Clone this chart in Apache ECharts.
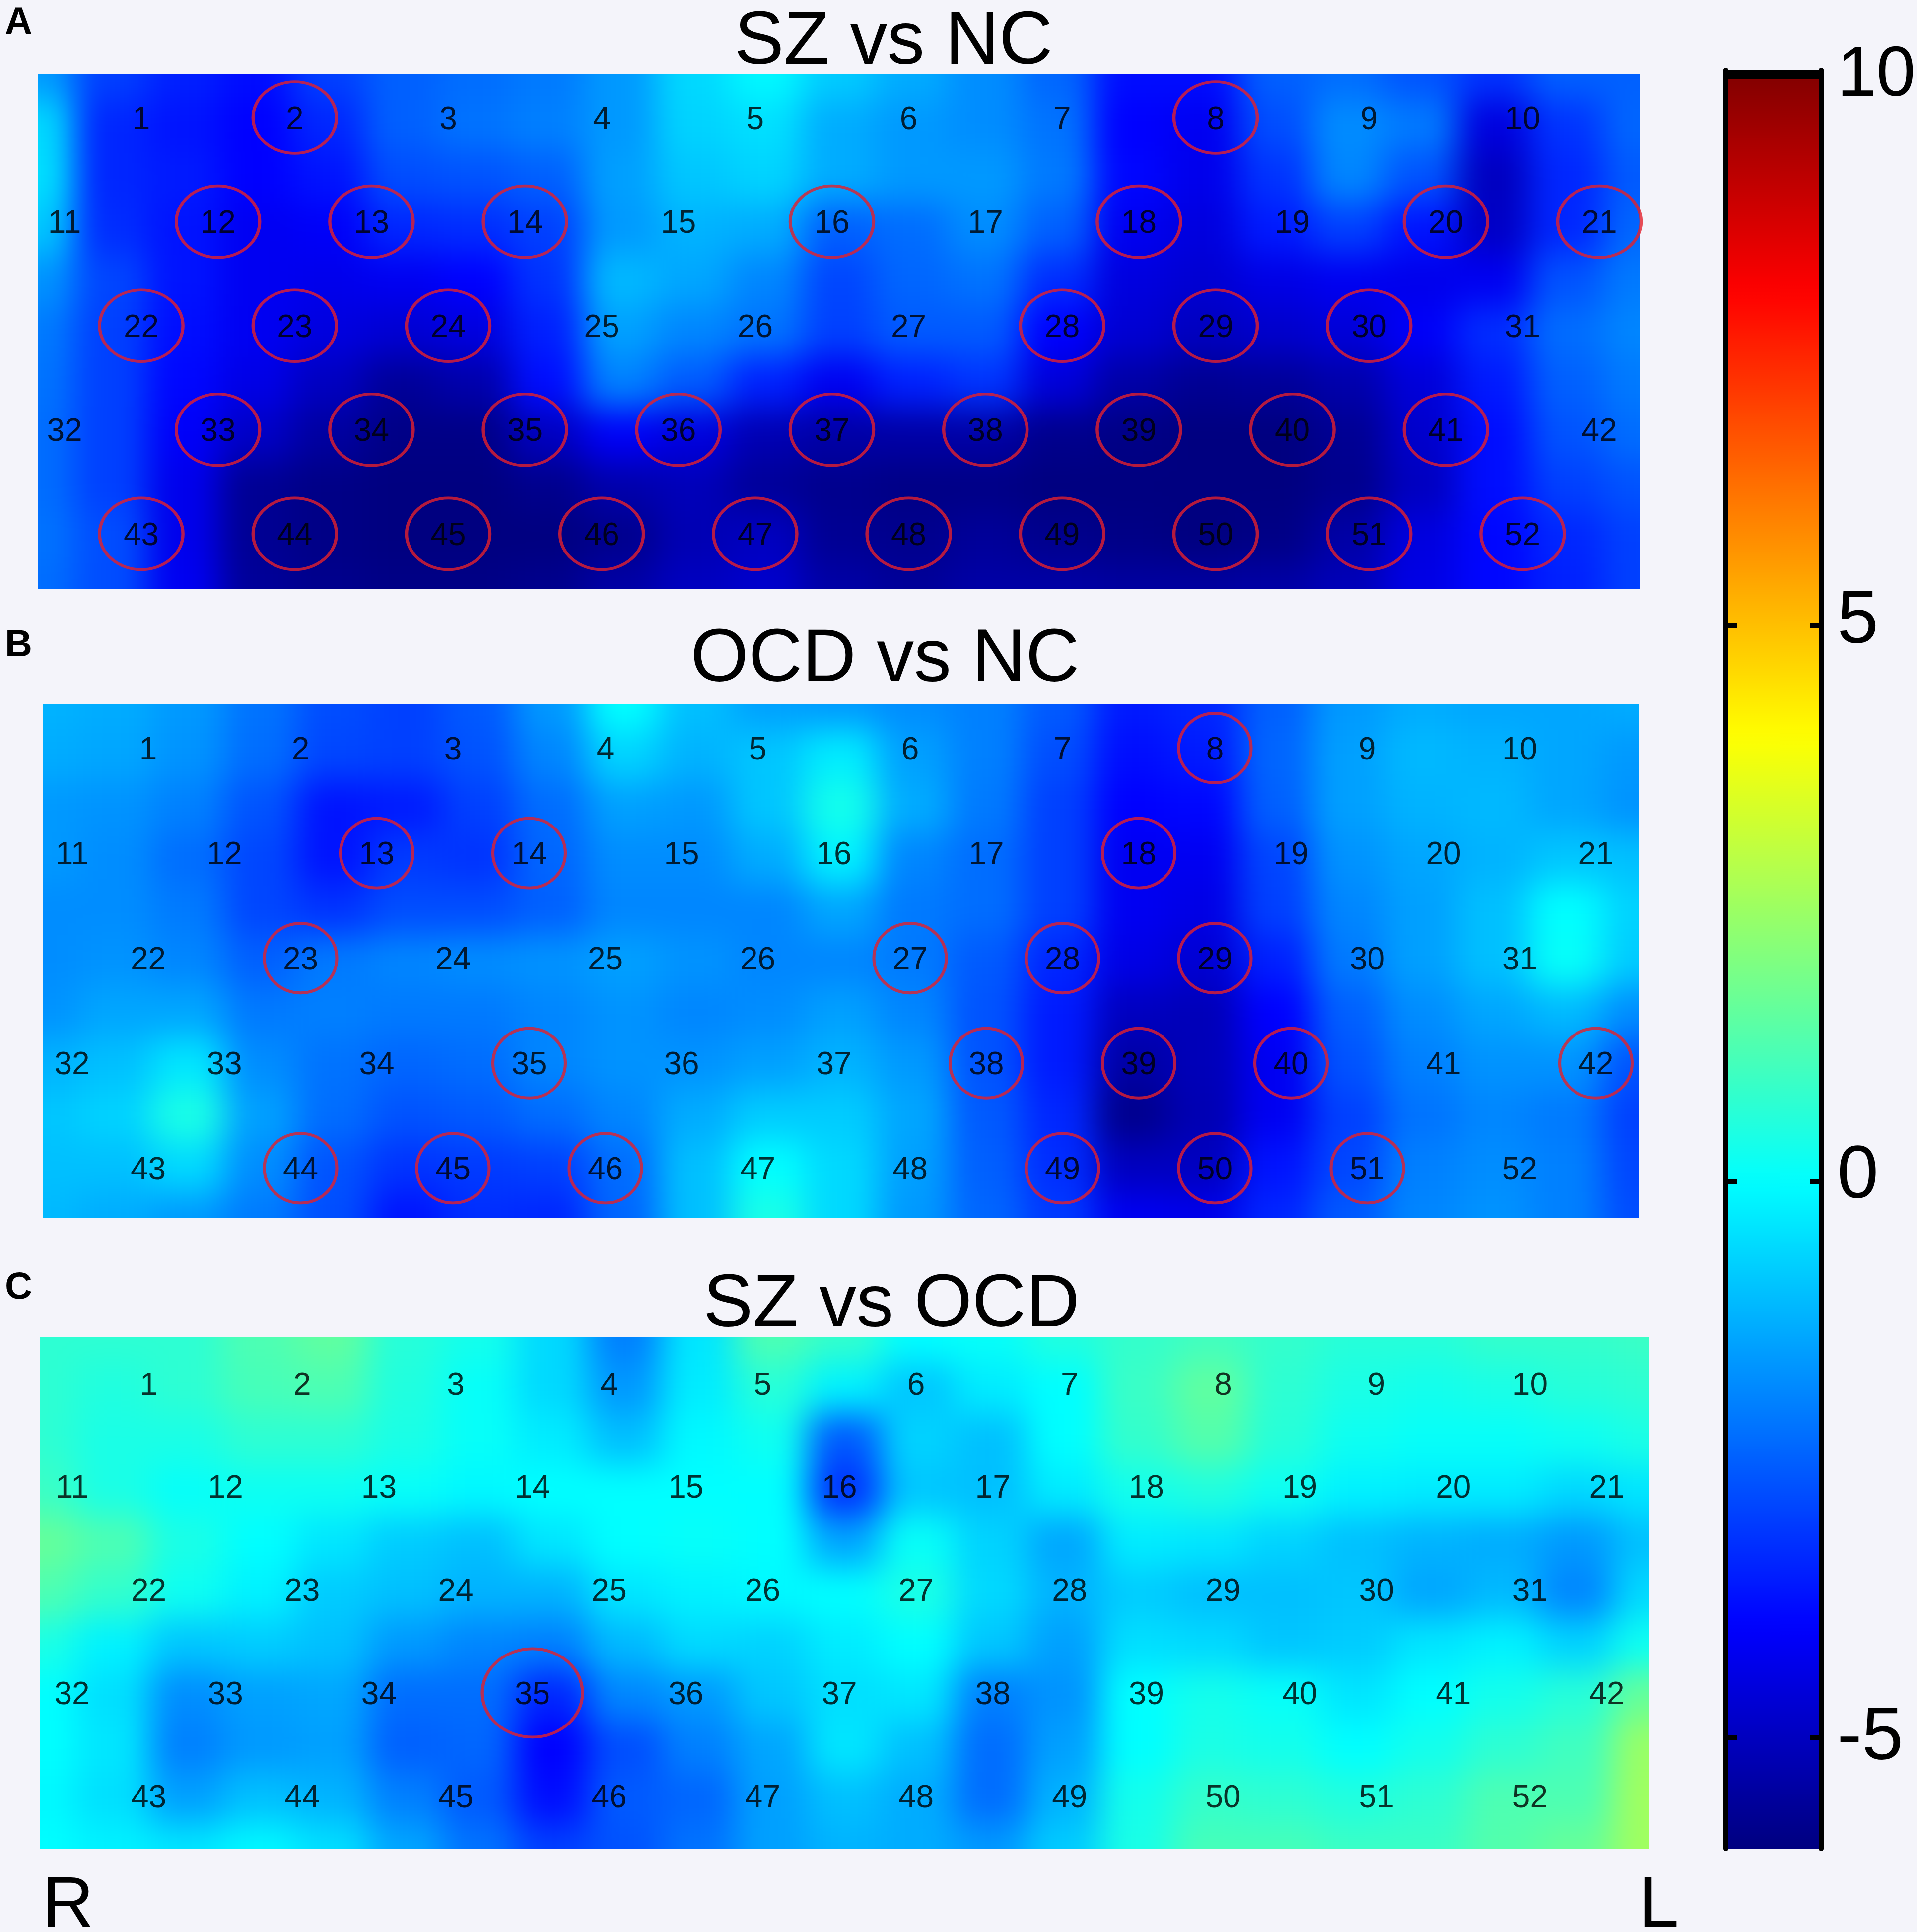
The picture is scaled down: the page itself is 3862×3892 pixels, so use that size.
<!DOCTYPE html>
<html>
<head>
<meta charset="utf-8">
<script src="https://cdn.jsdelivr.net/npm/echarts@6/dist/echarts.min.js"></script>
<style>
html,body{margin:0;padding:0;background:#f4f4fa;}
#chart{width:3862px;height:3892px;}
/* the heat layer (zlevel 0) is softened the way the source map is interpolated */
#chart canvas[data-zr-dom-id="zr_0"]{filter:blur(34px);}
</style>
</head>
<body>
<div id="chart"></div>
<script>
// Values, one row per line, 23 columns x 11 rows, top to bottom.
const szVsNc = [
[-1.6,-3,-3.5,-3.8,-3,-2.5,-2.3,-2.1,-1.6,-0.6,-0.1,-0.8,-1.3,-1.8,-2.4,-3.8,-3.8,-2.5,-2.3,-2.7,-3.2,-2.5,-2.5],
[-0.6,-3.4,-3.7,-4,-3.4,-2.5,-2.2,-2,-1.6,-0.7,-0.5,-1.3,-1.6,-1.8,-2.2,-4,-4.2,-2.8,-1.8,-2.1,-4.5,-3.2,-2.4],
[-0.5,-3.4,-3.6,-4,-3.7,-2.8,-2.7,-2.5,-1.5,-0.9,-0.7,-1.3,-1.6,-1.6,-2.1,-3.9,-4.3,-3.2,-1.9,-2.7,-5,-3.4,-2.6],
[-0.9,-3.3,-3.7,-4.2,-4.1,-3.4,-3.3,-3,-1.6,-1.2,-1.3,-2.5,-2.3,-1.8,-2.5,-4.2,-4.5,-3.6,-3,-3.7,-4.9,-3.4,-2.4],
[-1.7,-2.9,-3.7,-4.2,-4.3,-4.2,-4,-3.2,-1.1,-1.4,-1.9,-2.9,-2.4,-2.2,-3.3,-4.5,-4.7,-4.4,-4.2,-4.3,-4.2,-2.7,-2.1],
[-2.1,-3,-3.8,-4.2,-4.5,-4.7,-4.5,-3.5,-1.5,-1.9,-2.2,-3,-2.6,-2.6,-4,-4.7,-5,-4.8,-4.6,-4.1,-3.3,-2.3,-1.9],
[-2.2,-3,-3.9,-4.4,-5,-5.6,-5.3,-3.8,-2,-2.6,-3.5,-4.2,-3.5,-3.2,-4.6,-5.4,-5.7,-5.6,-5.3,-4.6,-3.6,-2.5,-2.1],
[-2.3,-3,-4.1,-4.9,-5.5,-5.9,-5.9,-5,-4.1,-4.5,-5.2,-5.4,-5.4,-5.4,-5.8,-5.9,-6,-6,-5.7,-4.8,-3.8,-2.7,-2.3],
[-2.3,-3,-4.3,-5.7,-5.9,-6,-6,-5.8,-5.3,-5.1,-5.6,-5.8,-5.9,-5.9,-6,-6,-6,-6,-5.8,-5,-3.8,-3,-2.7],
[-2.2,-2.8,-4.3,-5.7,-5.9,-6,-6,-6,-5.8,-5.2,-5,-5.7,-5.8,-5.6,-5.8,-5.9,-6,-5.9,-5.4,-4.5,-3.9,-3.4,-3],
[-2.3,-2.8,-4.2,-5.6,-5.8,-5.9,-5.9,-5.8,-5.4,-5,-4.8,-5.4,-5.6,-5.4,-5.4,-5.5,-5.5,-5.4,-5.1,-4.4,-3.9,-3.5,-3]
];
const ocdVsNc = [
[-1.2,-1.3,-1.6,-2.2,-2.8,-3,-2.6,-1.6,0,-1,-1.5,-1.6,-1.8,-2,-2.6,-3.6,-3.4,-2.5,-1.6,-1.3,-1.4,-1.4,-1.3],
[-1.3,-1.4,-1.7,-2.3,-2.9,-3,-2.7,-1.9,-0.7,-1.2,-0.9,-0.3,-1.5,-2,-2.8,-3.8,-3.6,-2.4,-1.5,-1.1,-1.2,-1.4,-1.6],
[-1.6,-1.7,-2,-2.7,-3.7,-3.6,-3,-2.3,-1.5,-1.6,-0.9,0.3,-1.3,-2.1,-3,-4,-3.9,-2.5,-1.5,-1.2,-1.1,-1.4,-1.7],
[-1.6,-1.8,-2.3,-2.9,-3.7,-3.1,-3.2,-2.4,-1.8,-1.8,-1.3,-0.2,-1.9,-2.3,-3,-4.2,-4.2,-2.9,-1.7,-1.4,-1.2,-0.9,-1],
[-1.8,-1.8,-2.1,-2.9,-3.2,-2.8,-2.8,-2.5,-1.9,-1.9,-1.9,-1.4,-2.1,-2.3,-3,-4.2,-4.4,-3,-1.9,-1.5,-1,0,-0.7],
[-1.8,-1.7,-1.9,-2.5,-2.1,-1.9,-1.8,-1.7,-1.5,-1.7,-1.9,-1.9,-2.1,-2.6,-3.4,-4.4,-4.7,-3.5,-2.1,-1.5,-1,0.1,-0.8],
[-1.7,-1.4,-1.4,-2.1,-2,-2.1,-2.1,-1.9,-1.7,-1.9,-1.8,-1.5,-1.9,-2.7,-3.6,-5,-5.1,-4,-2.5,-1.8,-1.4,-1.1,-1.8],
[-1.2,-1,-0.4,-1.8,-2.2,-2.4,-2.3,-1.9,-1.7,-1.7,-1.5,-1.2,-1.6,-2.7,-3.6,-5.4,-5.1,-4.2,-2.7,-2,-1.7,-1.7,-2.7],
[-0.9,-0.7,0.4,-1.5,-2.3,-2.7,-2.6,-2.3,-1.9,-1.3,-0.8,-0.8,-1.4,-2.6,-3.4,-5.8,-5.2,-4.2,-3,-2.2,-1.9,-2.1,-3],
[-1,-1,-0.6,-1.8,-2.7,-3.2,-3.1,-3,-2.3,-1,0,-0.6,-1.5,-2.5,-3.3,-5,-5,-3.7,-2.9,-2,-1.8,-2,-2.9],
[-1.1,-1.3,-1.6,-2.1,-2.8,-3.7,-3.3,-3.4,-2.4,-1,0.4,-0.6,-1.6,-2.4,-3.1,-4.2,-4.3,-3.4,-2.6,-1.9,-1.7,-2,-2.8]
];
const szVsOcd = [
[0.7,0.7,0.7,1.2,1.5,0.6,0.3,-0.6,-2,-0.4,1.2,0.8,0,0.1,0.5,0.8,1,0.8,0.6,0.6,0.8,0.8,0.9],
[0.7,0.5,0.7,1.1,1.2,0.5,0.1,-0.6,-1.6,-0.3,0.6,-0.2,-0.9,-0.3,0,0.9,1.5,0.7,0.4,0.3,0.4,0.6,0.7],
[0.7,0.4,0.4,0.7,0.7,0.4,0.1,-0.3,-1,-0.1,0.2,-2.6,-0.7,-1,0,0.8,1.3,0.6,0.2,0.1,0.1,0.2,0.4],
[0.9,0.4,0.1,0.2,0.2,0.1,-0.1,0,0,0,0,-3.2,-0.9,-1,-0.3,0.3,0.5,0.2,-0.2,-0.3,-0.3,-0.6,-0.4],
[1.6,1.2,0.4,0,-0.4,-0.8,-1,-0.4,0,0.1,0,-1.4,0.1,-0.7,-1.4,-0.3,-0.4,-0.7,-1,-1.2,-1.3,-1.6,-1],
[1.2,0.8,0.2,-0.2,-0.8,-1,-1.2,-1.2,-0.4,-0.2,-0.1,0,0.4,-0.6,-1.2,-0.8,-1,-1,-0.9,-1.4,-1.1,-1.9,-0.6],
[0.4,-0.2,-0.9,-0.8,-1,-1.6,-1.9,-2,-1.1,-0.6,-0.7,-0.3,0,-0.9,-1.5,-0.5,-0.6,-0.9,-0.8,-0.4,-0.2,-0.7,0.2],
[0,-0.5,-1.8,-1.5,-1.4,-2.3,-2.3,-3.4,-1.9,-1.6,-0.9,-0.5,-0.4,-2,-1.7,0,0.3,0.1,-0.4,0,0.3,0.6,1.6],
[0,-0.4,-2,-1.6,-1.5,-2.5,-2.4,-4,-2.8,-2,-1.4,-0.4,-1,-2.3,-1.5,0,0.4,0.3,0,0.3,0.7,1,2.4],
[-0.1,-0.5,-1.5,-1,-1.2,-2,-2.6,-3.8,-2.6,-2.4,-1.5,-1,-1.3,-2.3,-1.2,0.3,0.8,0.7,0.5,0.7,1.2,1.2,2.5],
[0,-0.2,-0.4,-0.1,-0.5,-1.4,-2.2,-3,-2.7,-2.2,-1.5,-1.2,-1.3,-1.6,-0.8,0.4,1.1,1.1,0.9,0.9,1.3,1.6,2.5]
];
const panelTitles = ['SZ vs NC','OCD vs NC','SZ vs OCD'];
const panelLetters = ['A','B','C'];
const sideLabels = ['R','L'];
const sigSzNc = [2,8,12,13,14,16,18,20,21,22,23,24,28,29,30,33,34,35,36,37,38,39,40,41,43,44,45,46,47,48,49,50,51,52];
const sigOcdNc = [8,13,14,18,23,27,28,29,35,38,39,40,42,44,45,46,49,50,51];
const sigSzOcd = [35];
const channelsPerRow = [10,11,10,11,10];
const colorLabels = [-5,0,5,10];
const colorTicks = [-5,0,5];
const jet = ['#000080','#0000ff','#0080ff','#00ffff','#80ff80','#ffff00','#ff8000','#ff0000','#800000'];

// Layout in page pixels
const BG = '#f4f4fa';
const panels = [
  {x0:76, y0:150, x1:3303,y1:1186, col0:130,colStep:154.6,row0:237, rowStep:209.6, ell:[168,144], title:[1800,87],  letter:[10,47]},
  {x0:87, y0:1418,x1:3301,y1:2454, col0:145,colStep:153.5,row0:1507,rowStep:211.6, ell:[146,140], title:[1783,1331],letter:[10,1301]},
  {x0:80, y0:2693,x1:3323,y1:3725, col0:145,colStep:154.6,row0:2787,rowStep:207.8, ell:[202,178], title:[1796,2631],letter:[10,2595]}
];
const matrices = [szVsNc, ocdVsNc, szVsOcd];
const sigLists = [sigSzNc, sigOcdNc, sigSzOcd];
const bar = {x0:3477, x1:3669, y0:141, y1:3724, vMin:-6, vMax:10};

// Channels: rows alternate between starting on column 1 and column 0, two columns apart
const channels = [];
channelsPerRow.forEach((count,row)=>{
  const start = row%2===0 ? 1 : 0;
  for(let j=0;j<count;j++) channels.push({n:channels.length+1, col:start+2*j, row});
});

const grid=[], xAxis=[], yAxis=[], series=[];
const NC=23, NR=11, PAD=1;
const idx = n => Array.from({length:n},(_,i)=>String(i));

panels.forEach((p,i)=>{
  const cw=(p.x1-p.x0)/(NC-1), ch=(p.y1-p.y0)/(NR-1);
  grid.push({left:p.x0-cw*(PAD+.5), top:p.y0-ch*(PAD+.5), width:cw*(NC-1+2*PAD+1), height:ch*(NR-1+2*PAD+1), show:false, outerBoundsMode:'none'});
  xAxis.push({type:'category',gridIndex:i,data:idx(NC+2*PAD),show:false});
  yAxis.push({type:'category',gridIndex:i,data:idx(NR+2*PAD),inverse:true,show:false});
  const data=[];
  for(let r=-PAD;r<NR+PAD;r++) for(let c=-PAD;c<NC+PAD;c++){
    const rr=Math.min(NR-1,Math.max(0,r)), cc=Math.min(NC-1,Math.max(0,c));
    data.push([c+PAD,r+PAD,matrices[i][rr][cc]]);
  }
  series.push({type:'heatmap',xAxisIndex:i,yAxisIndex:i,data,zlevel:0,progressive:0,silent:true});
});

panels.forEach((p,i)=>{
  const g=i+3;
  grid.push({left:p.x0,top:p.y0,width:p.x1-p.x0,height:p.y1-p.y0,show:false,outerBoundsMode:'none'});
  xAxis.push({type:'value',gridIndex:g,show:false,zlevel:1,min:(p.x0-p.col0)/p.colStep,max:(p.x1-p.col0)/p.colStep});
  yAxis.push({type:'value',gridIndex:g,show:false,zlevel:1,inverse:true,min:(p.y0-p.row0)/p.rowStep,max:(p.y1-p.row0)/p.rowStep});
  series.push({type:'scatter',xAxisIndex:g,yAxisIndex:g,zlevel:1,z:3,silent:true,clip:false,
    data:channels.filter(c=>sigLists[i].includes(c.n)).map(c=>[c.col,c.row]),
    symbol:'circle',symbolSize:p.ell,
    itemStyle:{color:'rgba(0,0,0,0)',borderColor:'#e2202c',borderWidth:6}});
  series.push({type:'scatter',xAxisIndex:g,yAxisIndex:g,zlevel:1,z:4,silent:true,clip:false,
    data:channels.map(c=>({value:[c.col,c.row],name:String(c.n)})),
    symbolSize:1,itemStyle:{color:'rgba(0,0,0,0)'},
    label:{show:true,position:'inside',offset:[0,5],formatter:d=>d.name,fontFamily:'Liberation Sans',fontSize:64,color:'#000'}});
});

// Colour bar axes
const barG=6;
grid.push({left:bar.x0,top:bar.y0,width:bar.x1-bar.x0,height:bar.y1-bar.y0,show:false,outerBoundsMode:'none'});
xAxis.push({type:'value',gridIndex:barG,position:'top',offset:-9,min:0,max:1,zlevel:2,
  axisLine:{show:true,onZero:false,lineStyle:{color:'#000',width:18,cap:'butt'}},axisTick:{show:false},axisLabel:{show:false},splitLine:{show:false}});
const tickStyle={show:true,inside:true,length:22,lineStyle:{color:'#000',width:10},customValues:colorTicks};
yAxis.push({type:'value',gridIndex:barG,position:'left',min:bar.vMin,max:bar.vMax,zlevel:2,
  axisLine:{show:true,onZero:false,lineStyle:{color:'#000',width:10}},axisTick:tickStyle,axisLabel:{show:false},splitLine:{show:false}});
yAxis.push({type:'value',gridIndex:barG,position:'right',min:bar.vMin,max:bar.vMax,zlevel:2,
  axisLine:{show:true,onZero:false,lineStyle:{color:'#000',width:10}},axisTick:tickStyle,splitLine:{show:false},
  axisLabel:{show:true,customValues:colorLabels,margin:32,align:'left',color:'#000',
    formatter:v=>v===10?'{top|10}':v===5?'{five|5}':v===0?'{zero|0}':'{low|-5}',
    rich:{
      top:{fontFamily:'Liberation Sans',fontSize:142,padding:[25,0,0,0]},
      five:{fontFamily:'Liberation Sans',fontSize:150,padding:[0,0,15,0]},
      zero:{fontFamily:'Liberation Sans',fontSize:150,padding:[0,0,17,0]},
      low:{fontFamily:'Liberation Sans',fontSize:150,padding:[5,0,0,0]}
    }}});
// the bar axes need a series to be laid out
series.push({type:'scatter',xAxisIndex:6,yAxisIndex:6,data:[],zlevel:2});

// Page-coloured masks around the three maps, above the soft heat layer
const mask=(x,y,w,h,fill)=>({type:'rect',shape:{x,y,width:w,height:h},style:{fill:fill||BG},zlevel:1,z:-10,silent:true});
const W=3862,H=3892;
const graphicEls=[
  mask(0,0,W,panels[0].y0),
  mask(0,panels[0].y1,W,panels[1].y0-panels[0].y1),
  mask(0,panels[1].y1,W,panels[2].y0-panels[1].y1),
  mask(0,panels[2].y1,W,H-panels[2].y1)
];
panels.forEach(p=>{
  graphicEls.push(mask(0,p.y0,p.x0,p.y1-p.y0));
  graphicEls.push(mask(p.x1,p.y0,W-p.x1,p.y1-p.y0));
});

const title=[];
panels.forEach((p,i)=>{
  title.push({text:panelTitles[i],left:p.title[0],top:p.title[1],textAlign:'center',textVerticalAlign:'middle',zlevel:2,padding:0,
    textStyle:{fontFamily:'Liberation Sans',fontWeight:'normal',fontSize:150,color:'#000'}});
  title.push({text:panelLetters[i],left:p.letter[0],top:p.letter[1],textVerticalAlign:'middle',zlevel:2,padding:0,
    textStyle:{fontFamily:'Liberation Sans',fontWeight:'bold',fontSize:76,color:'#000'}});
});
title.push({text:sideLabels[0],left:85,top:3841,textVerticalAlign:'middle',zlevel:2,padding:0,
  textStyle:{fontFamily:'Liberation Sans',fontWeight:'normal',fontSize:144,color:'#000'}});
title.push({text:sideLabels[1],left:3302,top:3841,textVerticalAlign:'middle',zlevel:2,padding:0,
  textStyle:{fontFamily:'Liberation Sans',fontWeight:'normal',fontSize:144,color:'#000'}});

const chart=echarts.init(document.getElementById('chart'),null,{renderer:'canvas',width:W,height:H});
chart.setOption({
  animation:false,
  backgroundColor:'transparent',
  tooltip:{show:false},
  title,grid,xAxis,yAxis,series,
  graphic:{elements:graphicEls},
  visualMap:{type:'continuous',seriesIndex:[0,1,2],dimension:2,min:-6,max:10,calculable:false,
    left:bar.x0,top:bar.y0,itemWidth:bar.x1-bar.x0,itemHeight:bar.y1-bar.y0,
    padding:0,text:null,showLabel:false,zlevel:1,z:1,hoverLink:false,
    inRange:{color:jet}}
});
</script>
</body>
</html>
